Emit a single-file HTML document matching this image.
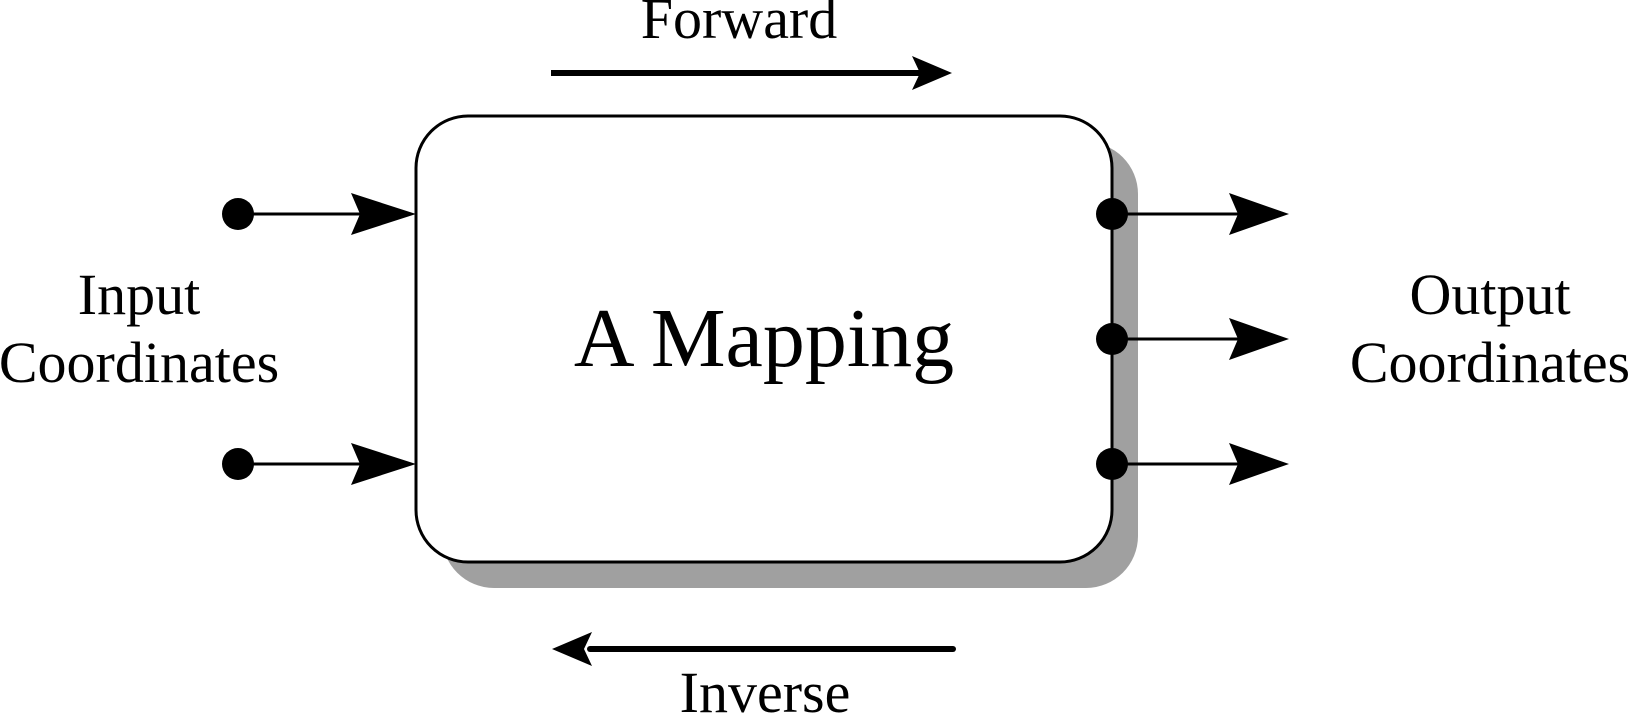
<!DOCTYPE html>
<html><head><style>html,body{margin:0;padding:0;background:#fff}svg{display:block}</style></head><body>
<svg width="1629" height="715" viewBox="0 0 1629 715" xmlns="http://www.w3.org/2000/svg" font-family="Liberation Serif, serif">
<rect x="442" y="142" width="696" height="446" rx="52" fill="#a0a0a0"/>
<rect x="416" y="116" width="696" height="446" rx="52" fill="#fff" stroke="#000" stroke-width="3"/>
<text x="764" y="366" font-size="84" text-anchor="middle">A Mapping</text>
<g fill="#000" stroke="#000">
<circle cx="238" cy="214" r="16" stroke="none"/>
<line x1="238" y1="214" x2="360" y2="214" stroke-width="3"/>
<polygon points="351,193 416,214 351,235 360,214" stroke="none"/>
<circle cx="238" cy="464" r="16" stroke="none"/>
<line x1="238" y1="464" x2="360" y2="464" stroke-width="3"/>
<polygon points="351,443 416,464 351,485 360,464" stroke="none"/>
<circle cx="1112" cy="214" r="16" stroke="none"/>
<line x1="1112" y1="214" x2="1240" y2="214" stroke-width="3"/>
<polygon points="1229,193 1289,214 1229,235 1238,214" stroke="none"/>
<circle cx="1112" cy="339" r="16" stroke="none"/>
<line x1="1112" y1="339" x2="1240" y2="339" stroke-width="3"/>
<polygon points="1229,318 1289,339 1229,360 1238,339" stroke="none"/>
<circle cx="1112" cy="464" r="16" stroke="none"/>
<line x1="1112" y1="464" x2="1240" y2="464" stroke-width="3"/>
<polygon points="1229,443 1289,464 1229,485 1238,464" stroke="none"/>
<line x1="551" y1="73" x2="920" y2="73" stroke-width="6"/>
<polygon points="912,56 952,73 912,90 920,73" stroke="none"/>
<line x1="590" y1="649" x2="953" y2="649" stroke-width="6" stroke-linecap="round"/>
<polygon points="592,632 552,649 592,666 584,649" stroke="none"/>
</g>
<g font-size="58" text-anchor="middle" fill="#000">
<text x="739" y="38">Forward</text>
<text x="765" y="712">Inverse</text>
<text x="139" y="314">Input</text>
<text x="139" y="382">Coordinates</text>
<text x="1490" y="314">Output</text>
<text x="1490" y="382">Coordinates</text>
</g>
</svg>
</body></html>
